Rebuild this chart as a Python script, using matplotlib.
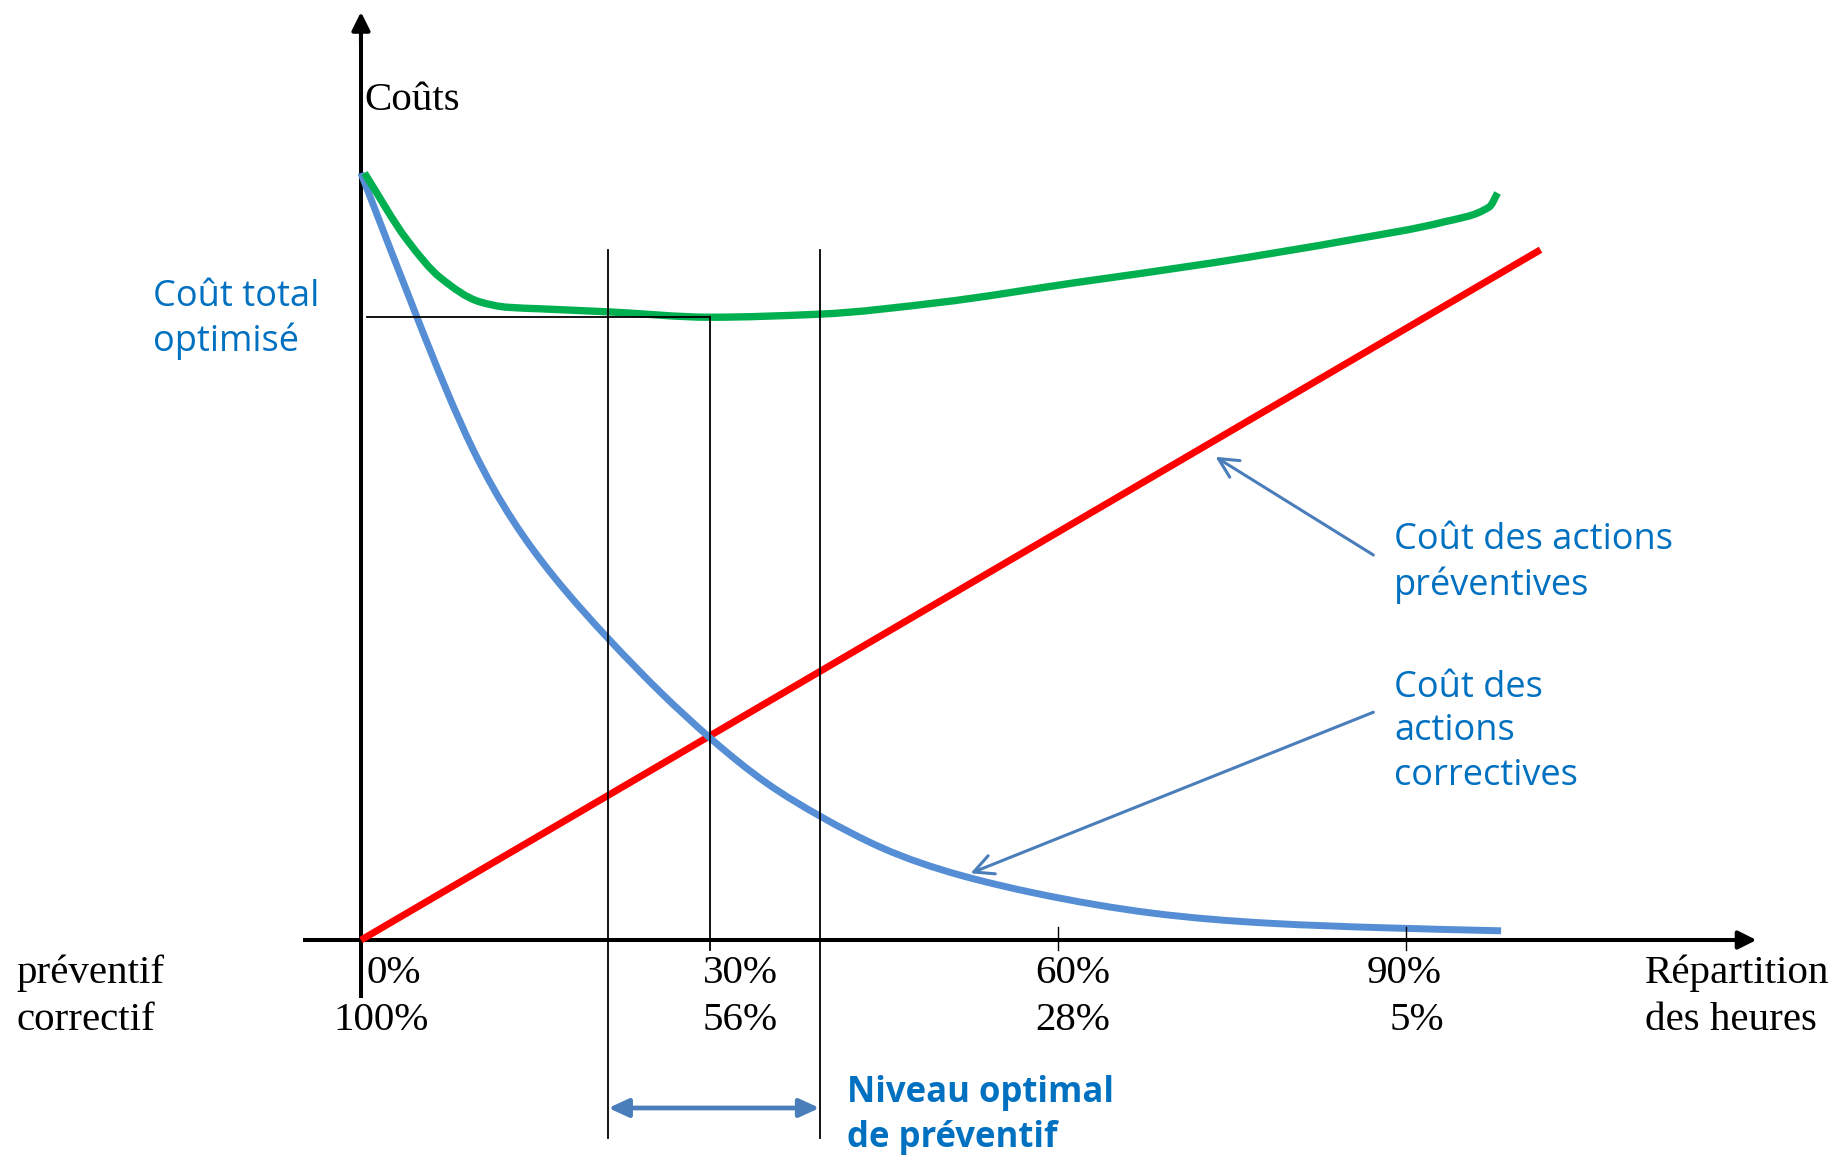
import matplotlib
matplotlib.use("Agg")
import numpy as np
import matplotlib.pyplot as plt
from matplotlib.path import Path
from matplotlib.patches import PathPatch

# --- data -------------------------------------------------------------
# share of preventive hours (%) and cost levels (arbitrary units)
total_x = [0.3, 3.96, 6.8, 10.25, 12.6, 15.4, 21.3, 30.1, 39.5, 49.7,
           61.5, 73.4, 85.3, 93.2, 97.2, 97.9]
total_y = [100, 91.3, 86.4, 83.2, 82.5, 82.3, 81.9, 81.2, 81.6, 83.1,
           85.7, 88.3, 91.3, 93.6, 95.6, 97.4]

corrective_x = [0, 4.8, 9.67, 16.6, 21.3, 25.8, 30.1, 35.0, 39.6, 44.9,
                51.5, 58.1, 68.2, 78.1, 88.0, 98.2]
corrective_y = [100, 81.3, 63.9, 47.4, 39.3, 32.3, 26.3, 20.4, 16.1, 12.0,
                8.5, 6.1, 3.5, 2.2, 1.6, 1.2]

preventive_x = [0, 101.6]
preventive_y = [0, 90.0]

tick_pos = [0, 30, 60, 90]
prev_labels = ["0%", "30%", "60%", "90%"]
corr_labels = ["100%", "56%", "28%", "5%"]

optimum_x = 30.1
optimum_cost = 81.2
optimal_range = [21.3, 39.5]

# --- styles -----------------------------------------------------------
GREEN = "#00B050"
RED = "#FF0000"
CURVE_BLUE = "#558ED5"
ARROW_BLUE = "#4A7EBB"
TEXT_BLUE = "#0070C0"
SERIF = ["Liberation Serif", "DejaVu Serif"]
SANS = ["Open Sans", "DejaVu Sans"]


def pchip_slopes(xs, ys):
    n = len(xs)
    h = [xs[i + 1] - xs[i] for i in range(n - 1)]
    d = [(ys[i + 1] - ys[i]) / h[i] for i in range(n - 1)]
    m = [d[0]]
    for i in range(1, n - 1):
        if d[i - 1] * d[i] <= 0:
            m.append(0.0)
        else:
            w1 = 2 * h[i] + h[i - 1]
            w2 = h[i] + 2 * h[i - 1]
            m.append((w1 + w2) / (w1 / d[i - 1] + w2 / d[i]))
    m.append(d[-1])
    return m


def spline_slopes(xs, ys):
    """Knot slopes of a natural cubic spline."""
    x = np.asarray(xs, float)
    y = np.asarray(ys, float)
    n = len(x)
    h = np.diff(x)
    d = np.diff(y) / h
    A = np.zeros((n, n))
    b = np.zeros(n)
    A[0, 0] = A[-1, -1] = 1.0
    for i in range(1, n - 1):
        A[i, i - 1] = h[i - 1]
        A[i, i] = 2 * (h[i - 1] + h[i])
        A[i, i + 1] = h[i]
        b[i] = 6 * (d[i] - d[i - 1])
    M = np.linalg.solve(A, b)
    m = [d[i] - h[i] * (2 * M[i] + M[i + 1]) / 6 for i in range(n - 1)]
    m.append(d[-1] + h[-1] * (M[-2] + 2 * M[-1]) / 6)
    return m


def hermite_path(xs, ys, m):
    verts = [(xs[0], ys[0])]
    codes = [Path.MOVETO]
    for i in range(len(xs) - 1):
        t = (xs[i + 1] - xs[i]) / 3.0
        verts += [(xs[i] + t, ys[i] + m[i] * t),
                  (xs[i + 1] - t, ys[i + 1] - m[i + 1] * t),
                  (xs[i + 1], ys[i + 1])]
        codes += [Path.CURVE4] * 3
    return Path(verts, codes)


def draw_curve(ax, path, color, lw, z):
    patch = PathPatch(path, facecolor="none", edgecolor=color, lw=lw, zorder=z)
    patch.set_capstyle("butt")
    patch.set_joinstyle("round")
    ax.add_patch(patch)


fig = plt.figure(figsize=(18.43, 11.55), dpi=100)
ax = fig.add_axes([0, 0, 1, 1])
ax.set_xlim(-31.09, 127.65)
ax.set_ylim(-28.03, 122.56)
ax.axis("off")

# axes with arrow heads
ax.plot([0, 0], [-7.56, 118], color="black", lw=2.9, solid_capstyle="butt", zorder=2)
ax.annotate("", xy=(0, 121.0), xytext=(0, 117),
            arrowprops=dict(arrowstyle="-|>,head_length=1.1,head_width=0.55",
                            color="black", lw=2.9, shrinkA=0, shrinkB=0,
                            mutation_scale=10), zorder=2)
ax.plot([-5.0, 118], [0, 0], color="black", lw=2.9, solid_capstyle="butt", zorder=2)
ax.annotate("", xy=(120.2, 0), xytext=(116, 0),
            arrowprops=dict(arrowstyle="-|>,head_length=1.1,head_width=0.55",
                            color="black", lw=2.9, shrinkA=0, shrinkB=0,
                            mutation_scale=10), zorder=2)

# cost curves
ax.plot(preventive_x, preventive_y, color=RED, lw=5.0, solid_capstyle="butt", zorder=3)
draw_curve(ax, hermite_path(corrective_x, corrective_y,
                            spline_slopes(corrective_x, corrective_y)),
           CURVE_BLUE, 5.0, 3)
draw_curve(ax, hermite_path(total_x, total_y, pchip_slopes(total_x, total_y)),
           GREEN, 5.3, 4)

# guide lines for the optimum
thin = dict(color="black", lw=1.3, zorder=5)
ax.plot([0.5, optimum_x], [optimum_cost, optimum_cost], **thin)
ax.plot([optimum_x, optimum_x], [optimum_cost, -1.3], **thin)
for xv in optimal_range:
    ax.plot([xv, xv], [90.0, -25.8], **thin)
for t in tick_pos[2:]:
    ax.plot([t, t], [1.7, -1.3], color="black", lw=1.0, zorder=5)

# tick labels
label_x_prev = [0.52, 29.46, 58.05, 86.65]
label_x_corr = [-2.41, 29.46, 58.05, 88.63]
row1_y, row2_y = -5.6, -11.7
serif_kw = dict(family=SERIF, fontsize=29.5, color="black", ha="left", va="baseline")
for x, s in zip(label_x_prev, prev_labels):
    ax.text(x, row1_y, s, **serif_kw)
for x, s in zip(label_x_corr, corr_labels):
    ax.text(x, row2_y, s, **serif_kw)
ax.text(-29.7, row1_y, "préventif", **serif_kw)
ax.text(-29.7, row2_y, "correctif", **serif_kw)
ax.text(110.6, row1_y, "Répartition", **serif_kw)
ax.text(110.6, row2_y, "des heures", **serif_kw)
ax.text(0.26, 108.2, "Coûts", **serif_kw)

# blue annotations
sans_kw = dict(family=SANS, fontsize=26, color=TEXT_BLUE, ha="left", va="baseline")
ax.text(-17.9, 82.7, "Coût total", **sans_kw)
ax.text(-17.9, 76.8, "optimisé", **sans_kw)
ax.text(88.97, 51.0, "Coût des actions", **sans_kw)
ax.text(88.97, 45.0, "préventives", **sans_kw)
ax.text(88.97, 31.7, "Coût des", **sans_kw)
ax.text(88.97, 26.1, "actions", **sans_kw)
ax.text(88.97, 20.2, "correctives", **sans_kw)

bold_kw = dict(sans_kw, fontsize=25, fontweight="bold")
ax.text(41.9, -21.1, "Niveau optimal", **bold_kw)
ax.text(41.9, -27.0, "de préventif", **bold_kw)

pointer = dict(arrowstyle="->,head_length=1.4,head_width=0.7", color=ARROW_BLUE,
               lw=2.2, shrinkA=0, shrinkB=0, mutation_scale=10)
ax.annotate("", xy=(73.6, 63.0), xytext=(87.2, 50.2), arrowprops=pointer, zorder=6)
ax.annotate("", xy=(52.5, 8.7), xytext=(87.2, 29.7), arrowprops=pointer, zorder=6)

ax.annotate("", xy=(optimal_range[1], -21.9), xytext=(optimal_range[0], -21.9),
            arrowprops=dict(arrowstyle="<|-|>,head_length=1.2,head_width=0.55",
                            color=ARROW_BLUE, lw=3.4, shrinkA=0, shrinkB=0,
                            mutation_scale=10), zorder=6)

fig.savefig("out.png", dpi=100, facecolor="white")
